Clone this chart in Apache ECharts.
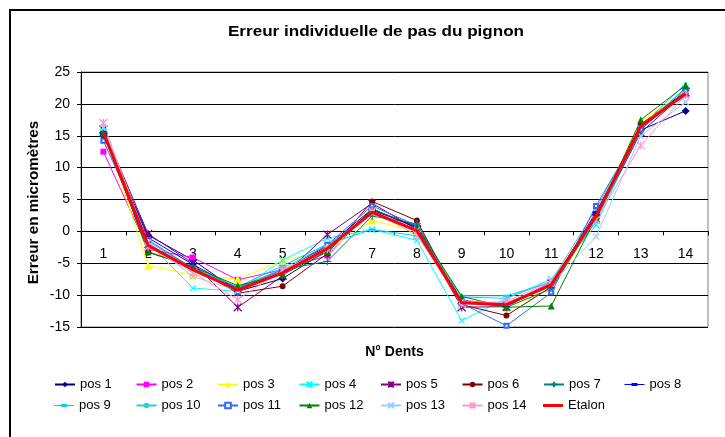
<!DOCTYPE html>
<html>
<head>
<meta charset="utf-8">
<script src="https://cdn.jsdelivr.net/npm/echarts@6/dist/echarts.min.js"></script>
<style>html,body{margin:0;padding:0;background:#fff}#c{width:725px;height:437px}</style>
</head>
<body>
<div id="c"></div>
<script>
const categories = ['1','2','3','4','5','6','7','8','9','10','11','12','13','14'];
const pos1  = [15.0, -0.6, -4.5, -9.4, -7.4, -3.0, 3.3, 0.8, -11.0, -11.4, -8.5, 2.7, 15.9, 18.9];
const pos2  = [12.5, -2.8, -4.1, -7.6, -6.0, -3.8, 3.5, 0.5, -10.8, -11.5, -8.0, 2.5, 16.5, 21.5];
const pos3  = [16.3, -5.4, -6.8, -7.5, -4.6, -3.0, 1.7, 0.0, -11.0, -12.0, -9.2, 2.0, 17.2, 22.0];
const pos4  = [15.8, -1.8, -8.9, -9.4, -4.5, -1.1, 0.3, -1.4, -14.0, -10.5, -7.5, 1.0, 16.1, 22.5];
const pos5  = [16.0, -0.4, -5.0, -11.9, -7.0, -0.5, 4.4, 0.3, -11.9, -11.8, -8.2, 2.0, 15.5, 21.8];
const pos6  = [15.8, -3.3, -5.5, -9.7, -8.6, -3.5, 4.7, 1.7, -11.5, -13.2, -8.7, 2.6, 16.8, 21.9];
const pos7  = [15.5, -2.5, -5.8, -8.8, -6.0, -4.7, 2.4, 1.2, -10.8, -11.9, -9.0, 2.0, 16.0, 22.5];
const pos8  = [15.3, -1.0, -5.2, -9.0, -6.2, -2.3, 3.5, 0.6, -11.0, -11.7, -8.3, 3.0, 16.3, 22.0];
const pos9  = [15.9, -1.6, -5.8, -8.7, -5.4, -2.0, 0.3, -0.7, -10.1, -10.1, -8.0, 1.5, 16.5, 22.3];
const pos10 = [16.0, -1.9, -6.3, -9.1, -5.8, -2.2, 3.0, 0.3, -10.3, -10.5, -7.8, 3.5, 16.4, 23.2];
const pos11 = [14.2, -1.35, -5.8, -9.5, -6.3, -2.1, 4.0, 0.9, -11.3, -14.8, -9.6, 4.0, 16.0, 22.0];
const pos12 = [15.4, -3.2, -5.6, -8.5, -6.8, -3.2, 3.5, 0.8, -10.2, -11.9, -11.7, 2.2, 17.5, 22.9];
const pos13 = [16.3, -1.7, -7.1, -9.3, -6.2, -2.5, 3.0, 0.2, -11.0, -11.2, -8.3, -0.8, 15.0, 20.3];
const pos14 = [17.0, -2.4, -6.5, -10.7, -6.0, -2.8, 3.2, -0.6, -11.4, -11.0, -7.9, 1.8, 13.5, 21.4];
const etalon = [15.5, -2.2, -6.0, -9.2, -6.5, -2.7, 3.0, 0.1, -11.2, -11.5, -8.4, 2.4, 16.5, 21.6];
const yTicks = {min: -15, max: 25, interval: 5};

const FONT = "'Liberation Sans', Arial, sans-serif";
const X = 'path://M0,0L10,10M0,10L10,0';
const STAR = 'path://M5,0L5,10M0,0L10,10M0,10L10,0';
const PLUS = 'path://M5,0L5,10M0,5L10,5';
const DASH_ICON = 'path://M0,3.5L20,3.5L20,4.5L0,4.5Z M7,2.5L13,2.5L13,5.5L7,5.5Z';
const THICK_ICON = 'path://M0,0L20,0L20,3L0,3Z';

const defs = [
  ['pos 1', pos1, '#000080', 'diamond', 8],
  ['pos 2', pos2, '#FF00FF', 'rect', 6],
  ['pos 3', pos3, '#FFFF00', 'triangle', 8],
  ['pos 4', pos4, '#00FFFF', X, 6],
  ['pos 5', pos5, '#800080', STAR, 8],
  ['pos 6', pos6, '#800000', 'circle', 6],
  ['pos 7', pos7, '#008080', PLUS, 8],
  ['pos 8', pos8, '#0000FF', 'rect', [7,2]],
  ['pos 9', pos9, '#00CCFF', 'rect', [7,2]],
  ['pos 10', pos10, '#33CCCC', 'circle', 3],
  ['pos 11', pos11, '#3366FF', 'emptyRect', 4],
  ['pos 12', pos12, '#008000', 'triangle', 7],
  ['pos 13', pos13, '#99CCFF', X, 6],
  ['pos 14', pos14, '#FF99CC', STAR, 8]
];
const series = defs.map(d => {
  const isPath = typeof d[3] === 'string' && d[3].startsWith('path://');
  return {
    name: d[0], type: 'line', data: d[1], symbol: d[3], symbolSize: d[4],
    lineStyle: {color: d[2], width: 1},
    itemStyle: {color: isPath ? 'rgba(0,0,0,0)' : d[2], borderColor: d[2], borderWidth: isPath ? 1.2 : (d[3]==='emptyRect' ? 1 : 0)},
    emphasis: {disabled: true}, animation: false
  };
});
series.push({
  name: 'Etalon', type: 'line', data: etalon, symbol: 'none', showSymbol: false,
  lineStyle: {color: '#FF0000', width: 3}, itemStyle: {color: '#FF0000'}, z: 5,
  emphasis: {disabled: true}, animation: false
});

// legend: fixed grid of columns / rows
const legendNames = ['pos 1','pos 2','pos 3','pos 4','pos 5','pos 6','pos 7','pos 8',
                     'pos 9','pos 10','pos 11','pos 12','pos 13','pos 14','Etalon'];
const legends = legendNames.map((n, i) => {
  const col = i % 8, row = Math.floor(i / 8);
  let item = n;
  if (n === 'pos 8' || n === 'pos 9') item = {name: n, icon: DASH_ICON};
  if (n === 'Etalon') item = {name: n, icon: THICK_ICON};
  return {
    orient: 'horizontal', left: 54 + col * 81.5, top: (row === 0 ? 384 : 405) - 6,
    padding: 0, itemWidth: 20, itemHeight: 7, itemGap: 0,
    textStyle: {fontFamily: FONT, fontSize: 13, color: '#000'},
    selectedMode: false, data: [item]
  };
});

const chart = echarts.init(document.getElementById('c'), null, {renderer: 'canvas'});
chart.setOption({
  backgroundColor: '#fff',
  animation: false,
  grid: {left: 81, right: 17, top: 72, bottom: 110, show: true, borderColor: '#808080', borderWidth: 1, containLabel: false},
  xAxis: {
    type: 'category', data: categories, boundaryGap: true, position: 'bottom', offset: -95.625,
    axisLine: {onZero: false, lineStyle: {color: '#000', width: 1}},
    axisTick: {show: true, length: 4, lineStyle: {color: '#000'}},
    axisLabel: {margin: 16, fontFamily: FONT, fontSize: 14, color: '#000'},
    splitLine: {show: false}
  },
  yAxis: {
    type: 'value', min: yTicks.min, max: yTicks.max, interval: yTicks.interval,
    axisLine: {show: true, lineStyle: {color: '#000', width: 1}},
    axisTick: {show: true, length: 4, lineStyle: {color: '#000'}},
    axisLabel: {margin: 11, fontFamily: FONT, fontSize: 14, color: '#000'},
    splitLine: {show: true, lineStyle: {color: '#000', width: 1}}
  },
  legend: legends,
  graphic: [
    {type: 'rect', shape: {x: 10, y: 10, width: 800, height: 500}, style: {fill: 'none', stroke: '#000', lineWidth: 2}, silent: true},
    {type: 'text', x: 376, y: 32, scaleX: 1.22, style: {text: 'Erreur individuelle de pas du pignon', font: 'bold 14px ' + FONT, fill: '#000', align: 'center', verticalAlign: 'middle'}},
    {type: 'text', x: 394.5, y: 352, style: {text: 'N° Dents', font: 'bold 14px ' + FONT, fill: '#000', align: 'center', verticalAlign: 'middle'}},
    {type: 'text', x: 34, y: 202.5, rotation: Math.PI/2, scaleX: 1.09, style: {text: 'Erreur en micromètres', font: 'bold 14px ' + FONT, fill: '#000', align: 'center', verticalAlign: 'middle'}}
  ],
  series: series
});
</script>
</body>
</html>
